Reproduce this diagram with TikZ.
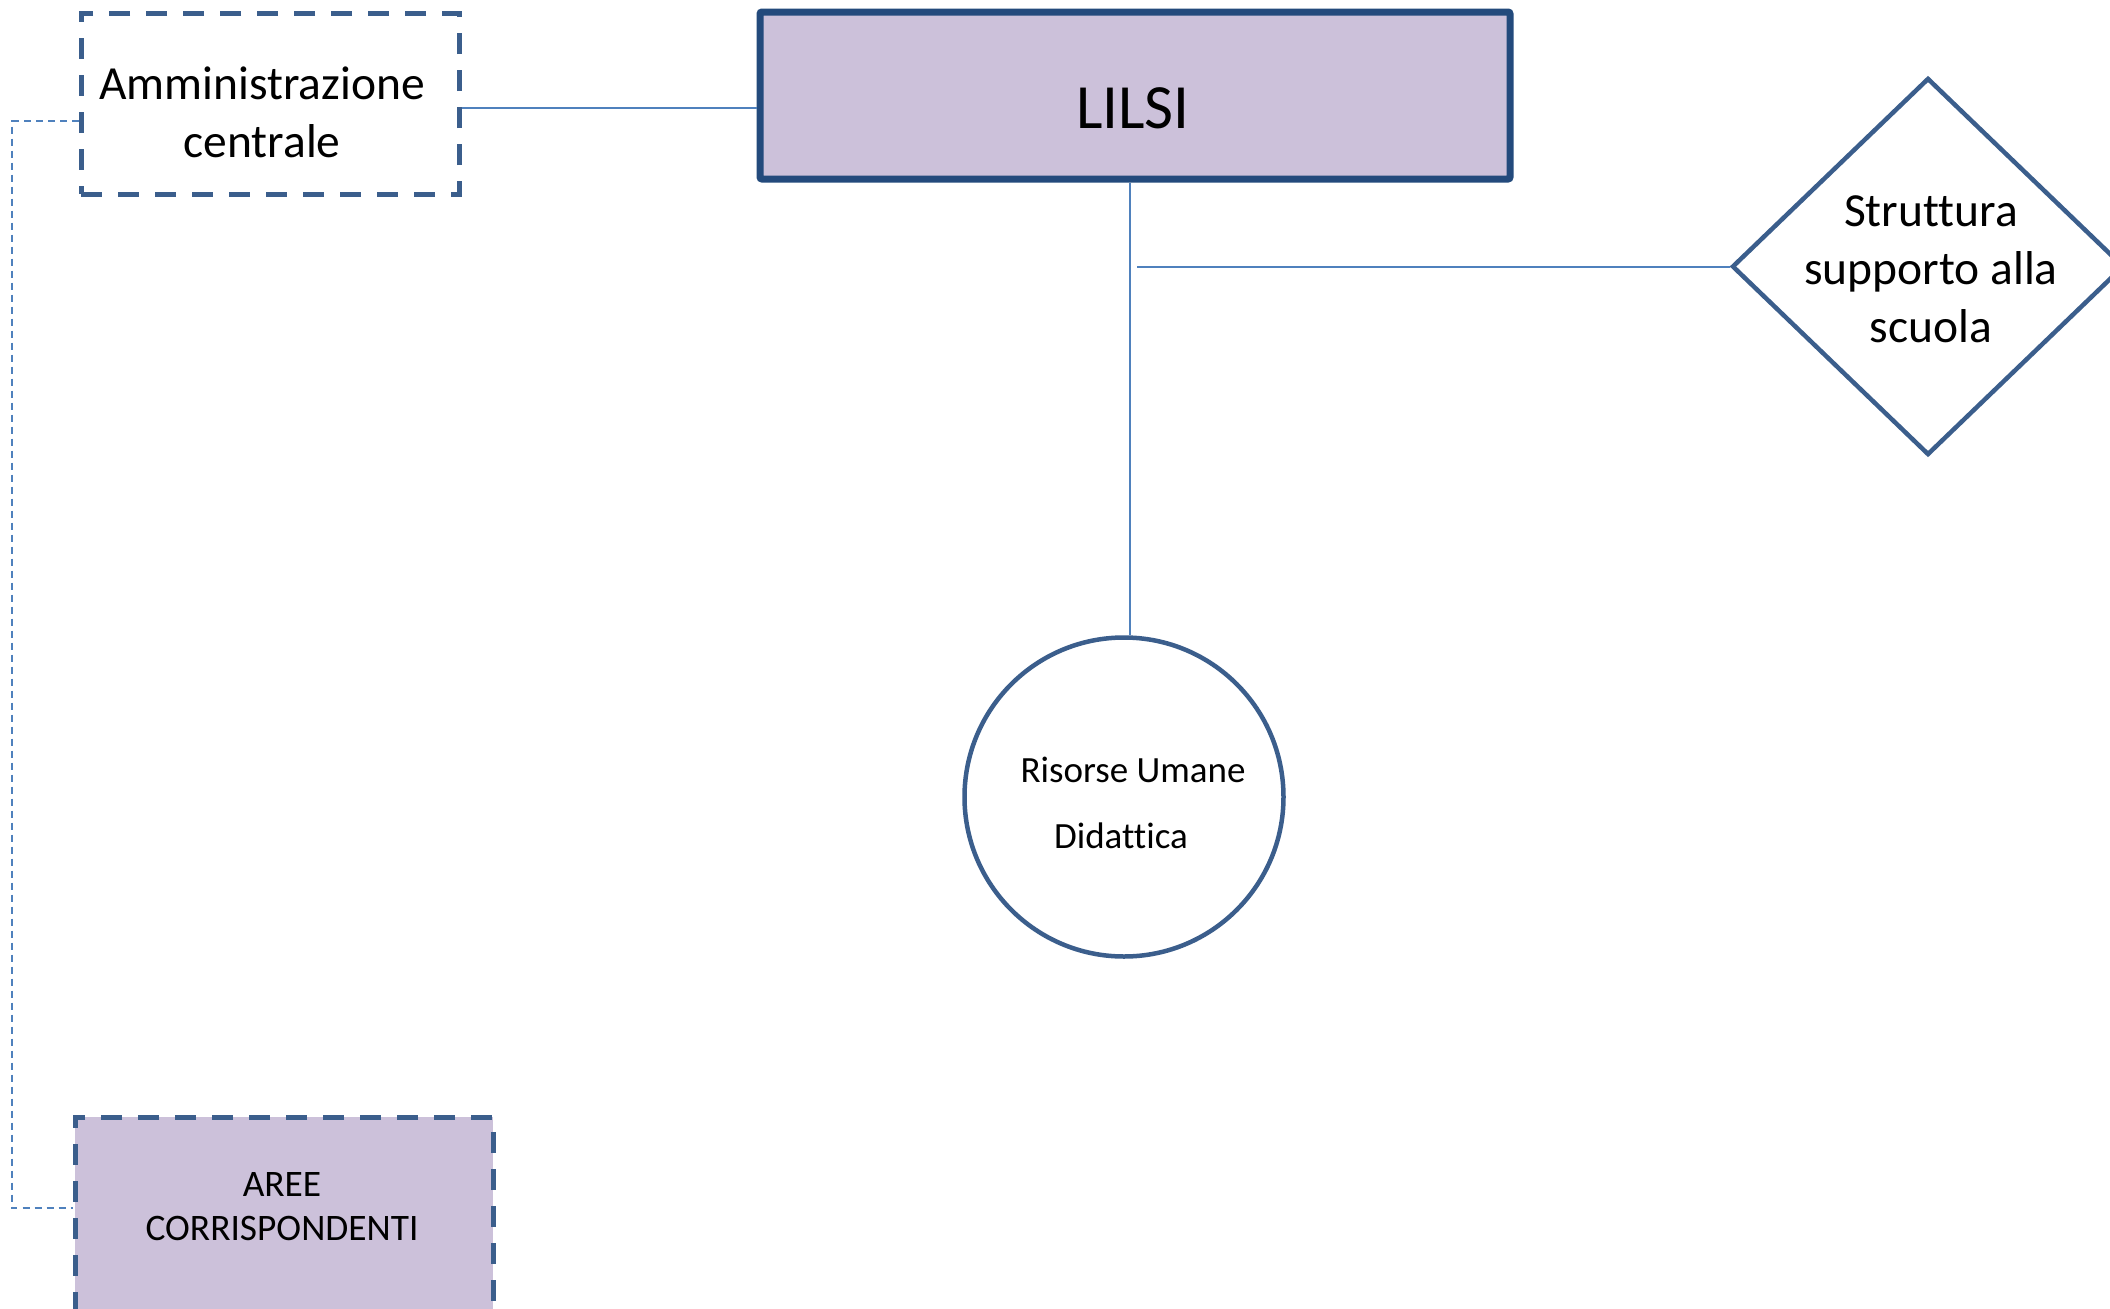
\documentclass[tikz,border=0pt]{standalone}
\usepackage{fontspec}
\setmainfont[RawFeature={-liga;-clig;-calt;-dlig}]{Carlito}
\usetikzlibrary{shapes.geometric}
\definecolor{bordc}{HTML}{3B5E8C}
\definecolor{lilsic}{HTML}{234A7C}
\definecolor{fillc}{HTML}{CCC1DA}
\definecolor{linec}{HTML}{4F81BD}
\tikzset{
  dashbox/.style={draw=bordc, line width=5pt, dash pattern=on 21pt off 16pt, inner sep=0pt, align=center},
  mainbox/.style={draw=lilsic, fill=fillc, line width=7pt, rounded corners=2pt, inner sep=0pt},
  conn/.style={draw=linec, line width=2pt},
  dotconn/.style={draw=linec, line width=1.6pt, dash pattern=on 7pt off 5pt},
  bigtxt/.style={font=\fontsize{47.5}{58}\selectfont, align=center},
}
\begin{document}
\begin{tikzpicture}[x=1pt,y=-1pt]
\useasboundingbox[fill=white] (0,0) rectangle (2110,1309);
% nodes
\node[dashbox, minimum width=378pt, minimum height=181pt] (amm) at (270,103.5) {};
\node[bigtxt] (ammtxt) at (262,112) {Amministrazione\\centrale};
\node[mainbox, minimum width=750pt, minimum height=167pt] (lilsi) at (1135,95.5) {};
\node[font=\fontsize{63}{70}\selectfont] (lilsitxt) at (1133,108) {LILSI};
\node[diamond, draw=bordc, line width=4.5pt, minimum width=392pt, minimum height=377pt, inner sep=0pt] (diam) at (1928,266.5) {};
\node[bigtxt] (diamtxt) at (1931,269) {Struttura\\supporto alla\\scuola};
\node[circle, draw=bordc, line width=4.5pt, minimum size=319pt, inner sep=0pt] (circ) at (1124,797) {};
\node[font=\fontsize{37}{66}\selectfont] (circtxt1) at (1133,770) {Risorse Umane};
\node[font=\fontsize{37}{66}\selectfont] (circtxt2) at (1121,836) {Didattica};
\node[dashbox, fill=fillc, minimum width=418pt, minimum height=210pt] (aree) at (284,1222) {};
\node[font=\fontsize{37.4}{44}\selectfont, align=center] (areetxt) at (282,1207) {AREE\\CORRISPONDENTI};
% connectors
\coordinate (c1) at (0,108);
\draw[conn] (amm.east |- c1) -- (lilsi.west |- c1);
\coordinate (vx) at (1130,0);
\draw[conn] (lilsi.south -| vx) -- (circ.north -| vx);
\coordinate (hs) at (1137,266.5);
\draw[conn] (hs) -- (diam.west);
\coordinate (d1) at (12,121);
\coordinate (d2) at (12,1208);
\draw[dotconn] (amm.west |- d1) -- (d1) -- (d2) -- (aree.west |- d2);
\end{tikzpicture}
\end{document}
